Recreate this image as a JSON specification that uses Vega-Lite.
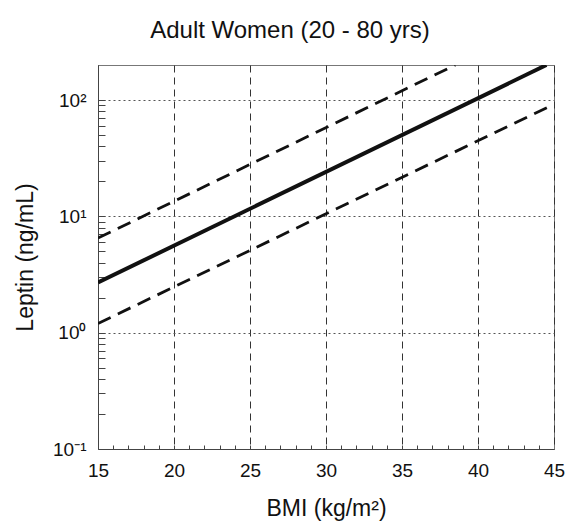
{
  "$schema": "https://vega.github.io/schema/vega-lite/v6.json",
  "width": 456,
  "height": 384,
  "autosize": {"type": "none"},
  "padding": {"left": 98, "top": 65, "right": 25, "bottom": 74},
  "background": "white",
  "title": {
    "text": "Adult Women (20 - 80 yrs)",
    "fontSize": 24,
    "font": "Liberation Sans",
    "fontWeight": "normal",
    "color": "#111111",
    "anchor": "middle",
    "dx": -36,
    "offset": 3,
    "baseline": "alphabetic"
  },
  "config": {
    "font": "Liberation Sans",
    "view": {"stroke": "#777777", "strokeWidth": 1}
  },
  "data": {
    "values": [
      {"series": "upper", "bmi": 15, "leptin": 6.5},
      {"series": "upper", "bmi": 38.5, "leptin": 200},
      {"series": "mean", "bmi": 15, "leptin": 2.7},
      {"series": "mean", "bmi": 44.5, "leptin": 200},
      {"series": "lower", "bmi": 15, "leptin": 1.2},
      {"series": "lower", "bmi": 45, "leptin": 92}
    ]
  },
  "layer": [
    {
      "transform": [{"filter": "datum.series != 'mean'"}],
      "mark": {"type": "line", "strokeDash": [14, 8], "strokeWidth": 2.8, "color": "#111111", "clip": true},
      "encoding": {
        "detail": {"field": "series"},
        "x": {
          "field": "bmi",
          "type": "quantitative",
          "scale": {"domain": [15, 45], "nice": false, "zero": false},
          "axis": {
            "orient": "bottom",
            "values": [15, 20, 25, 30, 35, 40, 45],
            "grid": true,
            "gridDash": [7, 5],
            "gridColor": "#333333",
            "gridWidth": 1,
            "gridOpacity": 1,
            "ticks": false,
            "labelFontSize": 19,
            "labelColor": "#111111",
            "labelPadding": 12,
            "labelFlush": false,
            "domainColor": "#444444",
            "title": "BMI (kg/m²)",
            "titleFontSize": 23,
            "titleFontWeight": "normal",
            "titleColor": "#111111",
            "titlePadding": 17
          }
        },
        "y": {
          "field": "leptin",
          "type": "quantitative",
          "scale": {"type": "log", "domain": [0.1, 200], "nice": false},
          "axis": {
            "orient": "left",
            "values": [0.1, 1, 10, 100],
            "labelExpr": "datum.value == 100 ? '10²' : datum.value == 10 ? '10¹' : datum.value == 1 ? '10⁰' : '10⁻¹'",
            "grid": true,
            "gridDash": [2, 3],
            "gridColor": "#555555",
            "gridWidth": 1,
            "gridOpacity": 1,
            "ticks": false,
            "labelFontSize": 19,
            "labelColor": "#111111",
            "labelPadding": 12,
            "labelFlush": false,
            "domainColor": "#444444",
            "title": "Leptin (ng/mL)",
            "titleFontSize": 23,
            "titleFontWeight": "normal",
            "titleColor": "#111111",
            "titlePadding": 15
          }
        }
      }
    },
    {
      "transform": [{"filter": "datum.series == 'mean'"}],
      "mark": {"type": "line", "strokeWidth": 4, "color": "#111111", "clip": true},
      "encoding": {
        "x": {
          "field": "bmi",
          "type": "quantitative",
          "scale": {"domain": [15, 45], "nice": false, "zero": false},
          "axis": {
            "orient": "bottom",
            "values": [16, 17, 18, 19, 20, 21, 22, 23, 24, 25, 26, 27, 28, 29, 30, 31, 32, 33, 34, 35, 36, 37, 38, 39, 40, 41, 42, 43, 44],
            "grid": false,
            "labels": false,
            "domain": false,
            "ticks": true,
            "tickSize": -4,
            "tickColor": "#444444",
            "title": null
          }
        },
        "y": {
          "field": "leptin",
          "type": "quantitative",
          "scale": {"type": "log", "domain": [0.1, 200], "nice": false},
          "axis": {
            "orient": "left",
            "values": [0.2, 0.3, 0.4, 0.5, 0.6, 0.7, 0.8, 0.9, 1, 2, 3, 4, 5, 6, 7, 8, 9, 10, 20, 30, 40, 50, 60, 70, 80, 90, 100],
            "grid": false,
            "labels": false,
            "domain": false,
            "ticks": true,
            "tickSize": -7,
            "tickColor": "#444444",
            "title": null
          }
        }
      }
    }
  ],
  "resolve": {"axis": {"x": "independent", "y": "independent"}}
}
